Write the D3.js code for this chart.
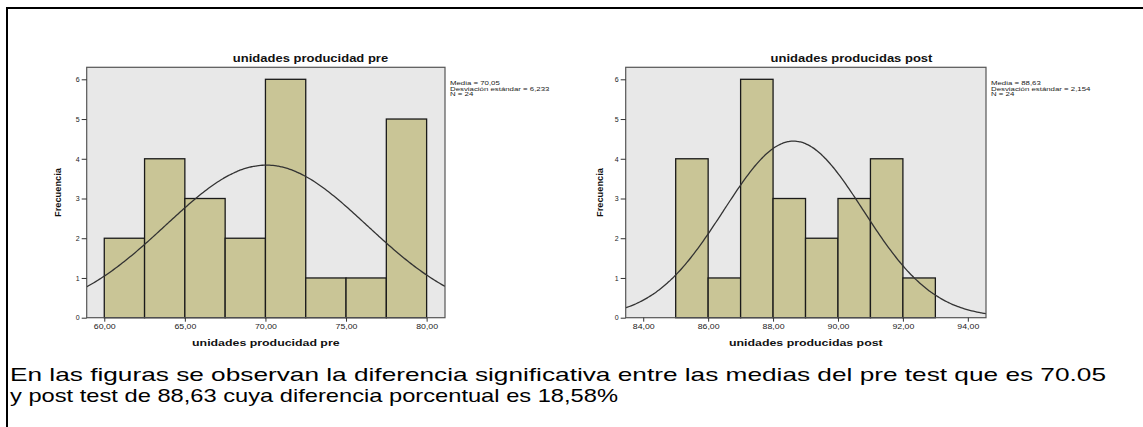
<!DOCTYPE html>
<html>
<head>
<meta charset="utf-8">
<script src="https://cdn.jsdelivr.net/npm/d3@7"></script>
<style>
  body { margin: 0; background: #fff; }
  svg { display: block; font-family: "Liberation Sans", Arial, sans-serif; }
</style>
</head>
<body>
<script>
// Histogram data
const preEdges = [60, 62.5, 65, 67.5, 70, 72.5, 75, 77.5, 80];
const preCounts = [2, 4, 3, 2, 6, 1, 1, 5];
const preTicks = [60, 65, 70, 75, 80];
const preStats = { mean: 70.05, sd: 6.233, n: 24 };

const postEdges = [85, 86, 87, 88, 89, 90, 91, 92, 93];
const postCounts = [4, 1, 6, 3, 2, 3, 4, 1];
const postTicks = [84, 86, 88, 90, 92, 94];
const postStats = { mean: 88.63, sd: 2.154, n: 24 };

const yTicks = [0, 1, 2, 3, 4, 5, 6];

const captionLines = [
  "En las figuras se observan la diferencia significativa entre las medias del pre test que es 70.05",
  "y post test de 88,63 cuya diferencia porcentual es 18,58%"
];

const W = 1143, H = 427;
const es = d3.formatLocale({ decimal: ",", thousands: ".", grouping: [3], currency: ["", ""] });
const fmt2 = es.format(".2f");

const svg = d3.select("body").append("svg")
  .attr("width", W)
  .attr("height", H);

// page frame (only top and left edges are visible)
svg.append("path")
  .attr("d", `M7,${H} L7,8 L${W},8`)
  .attr("fill", "none")
  .attr("stroke", "#000")
  .attr("stroke-width", 2);

// stretch a text element horizontally by factor k
function stretch(sel, k) {
  sel.each(function () {
    const w = this.getComputedTextLength();
    d3.select(this).attr("textLength", w * k).attr("lengthAdjust", "spacingAndGlyphs");
  });
}

function drawHistogram(cfg) {
  const { edges, counts, ticks, stats, title, xLabel, box, xDomain, id } = cfg;

  const x = d3.scaleLinear().domain(xDomain).range([box.left, box.right]);
  const y = d3.scaleLinear().domain([0, 6]).range([box.bottom, 79.3]);
  const bw = edges[1] - edges[0];

  const g = svg.append("g");

  g.append("clipPath").attr("id", id)
    .append("rect")
    .attr("x", box.left).attr("y", box.top)
    .attr("width", box.right - box.left).attr("height", box.bottom - box.top);

  // plot background
  g.append("rect")
    .attr("x", box.left).attr("y", box.top)
    .attr("width", box.right - box.left).attr("height", box.bottom - box.top)
    .attr("fill", "#e8e8e8");

  // bars
  g.selectAll("rect.bar")
    .data(counts)
    .enter()
    .append("rect")
    .attr("class", "bar")
    .attr("x", (d, i) => x(edges[i]))
    .attr("y", d => y(d))
    .attr("width", (d, i) => x(edges[i + 1]) - x(edges[i]))
    .attr("height", d => y(0) - y(d))
    .attr("fill", "#c9c596")
    .attr("stroke", "#1a1a1a")
    .attr("stroke-width", 1.3);

  // fitted normal curve
  const xs = d3.range(xDomain[0], xDomain[1] + 0.001, (xDomain[1] - xDomain[0]) / 200);
  const dens = v => stats.n * bw / (stats.sd * Math.sqrt(2 * Math.PI)) *
    Math.exp(-0.5 * Math.pow((v - stats.mean) / stats.sd, 2));
  g.append("path")
    .datum(xs)
    .attr("clip-path", `url(#${id})`)
    .attr("fill", "none")
    .attr("stroke", "#333")
    .attr("stroke-width", 1.3)
    .attr("d", d3.line().x(d => x(d)).y(d => y(dens(d))).curve(d3.curveBasis));

  // plot frame
  g.append("rect")
    .attr("x", box.left).attr("y", box.top)
    .attr("width", box.right - box.left).attr("height", box.bottom - box.top)
    .attr("fill", "none")
    .attr("stroke", "#555")
    .attr("stroke-width", 1.2);

  // axes
  const yAxis = g.append("g")
    .attr("transform", `translate(${box.left},0)`)
    .call(d3.axisLeft(y).tickValues(yTicks).tickFormat(d3.format("d")).tickSize(5).tickPadding(2));
  const xAxis = g.append("g")
    .attr("transform", `translate(0,${box.bottom})`)
    .call(d3.axisBottom(x).tickValues(ticks).tickFormat(fmt2).tickSize(4).tickPadding(2));
  [yAxis, xAxis].forEach(a => {
    a.select(".domain").remove();
    a.selectAll("line").attr("stroke", "#333");
    a.selectAll("text").attr("font-size", 7).attr("fill", "#222")
      .attr("font-family", "'Liberation Sans', Arial, sans-serif");
  });
  stretch(xAxis.selectAll("text"), 1.25);

  // title
  const t = g.append("text")
    .attr("x", cfg.titleX).attr("y", 62)
    .attr("text-anchor", "middle")
    .attr("font-size", 10).attr("font-weight", "bold")
    .attr("fill", "#111")
    .text(title);
  stretch(t, 1.3);

  // x axis label
  const xl = g.append("text")
    .attr("x", (box.left + box.right) / 2).attr("y", 346)
    .attr("text-anchor", "middle")
    .attr("font-size", 9.5).attr("font-weight", "bold")
    .attr("fill", "#111")
    .text(xLabel);
  stretch(xl, 1.3);

  // y axis label
  g.append("text")
    .attr("transform", `translate(${cfg.yLabelX},${(box.top + box.bottom) / 2}) rotate(-90)`)
    .attr("text-anchor", "middle")
    .attr("font-size", 9).attr("font-weight", "bold")
    .attr("fill", "#111")
    .attr("textLength", 49).attr("lengthAdjust", "spacingAndGlyphs")
    .text("Frecuencia");

  // legend stats
  const lines = [
    "Media = " + es.format(".2f")(stats.mean),
    "Desviación estándar = " + es.format(".3f")(stats.sd),
    "N = " + stats.n
  ];
  const st = g.selectAll("text.stat")
    .data(lines)
    .enter()
    .append("text")
    .attr("class", "stat")
    .attr("x", box.right + 5)
    .attr("y", (d, i) => 85 + i * 5.5)
    .attr("font-size", 5.8)
    .attr("fill", "#222")
    .text(d => d);
  stretch(st, 1.35);
}

drawHistogram({
  id: "clipPre",
  edges: preEdges, counts: preCounts, ticks: preTicks, stats: preStats,
  title: "unidades producidad pre", xLabel: "unidades producidad pre",
  box: { left: 86.7, right: 445, top: 67.3, bottom: 317.7 },
  xDomain: [58.91, 81.14],
  titleX: 310.5, yLabelX: 61
});

drawHistogram({
  id: "clipPost",
  edges: postEdges, counts: postCounts, ticks: postTicks, stats: postStats,
  title: "unidades producidas post", xLabel: "unidades producidas post",
  box: { left: 625.7, right: 986, top: 67.3, bottom: 317.7 },
  xDomain: [83.46, 94.56],
  titleX: 851.5, yLabelX: 603
});

// caption
const capWidths = [1096, 608];
svg.selectAll("text.cap")
  .data(captionLines)
  .enter()
  .append("text")
  .attr("class", "cap")
  .attr("x", 10)
  .attr("y", (d, i) => 381 + i * 20.5)
  .attr("font-size", 19)
  .attr("fill", "#000")
  .attr("textLength", (d, i) => capWidths[i])
  .attr("lengthAdjust", "spacingAndGlyphs")
  .text(d => d);
</script>
</body>
</html>
